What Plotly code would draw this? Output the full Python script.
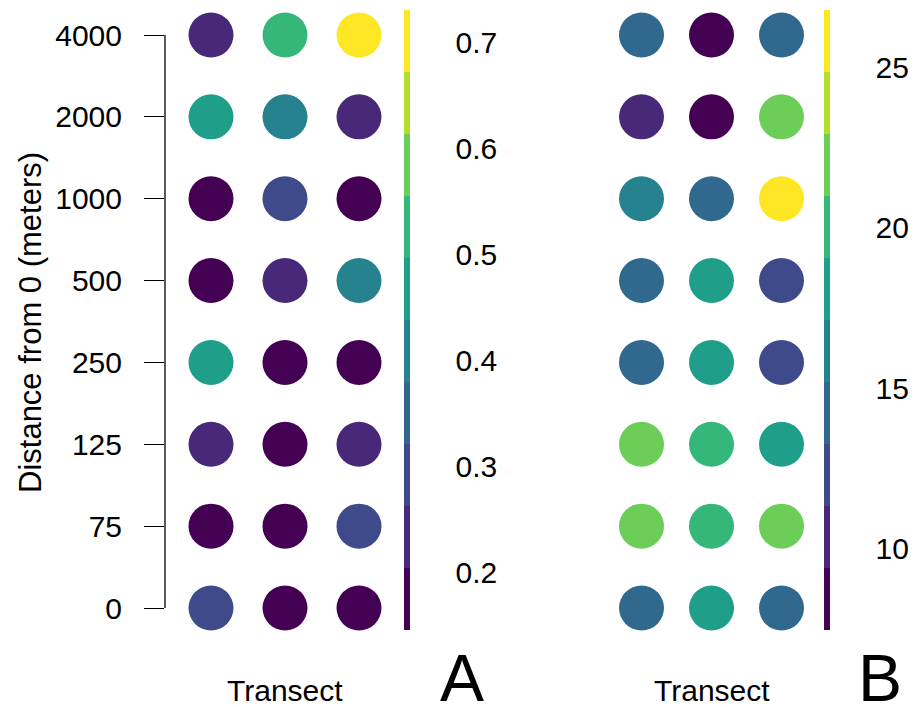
import plotly.graph_objects as go

# Sampling design: distance along each transect (rows) and transect number (columns)
distances = ["0", "75", "125", "250", "500", "1000", "2000", "4000"]
transects = [1, 2, 3]

# Panel A values, one row per distance (bottom to top), one column per transect
values_a = [
    [0.29, 0.17, 0.16],
    [0.18, 0.15, 0.30],
    [0.24, 0.19, 0.23],
    [0.47, 0.17, 0.18],
    [0.16, 0.22, 0.41],
    [0.146, 0.28, 0.17],
    [0.46, 0.42, 0.25],
    [0.22, 0.53, 0.731],
]

# Panel B values, same layout
values_b = [
    [14.2, 18.1, 14.6],
    [22.3, 20.2, 21.8],
    [22.1, 19.9, 18.4],
    [14.0, 18.6, 12.5],
    [14.4, 17.9, 12.1],
    [16.0, 13.9, 26.81],
    [10.2, 7.9, 22.0],
    [14.8, 7.44, 13.7],
]

range_a = [0.146, 0.731]
range_b = [7.44, 26.81]
ticks_a = [0.2, 0.3, 0.4, 0.5, 0.6, 0.7]
ticks_b = [10, 15, 20, 25]
panel_labels = ["A", "B"]

viridis10 = ["#440154", "#482878", "#3E4A89", "#31688E", "#26828E",
             "#1F9E89", "#35B779", "#6DCD59", "#B4DE2C", "#FDE725"]

W, H = 914, 707
FONT = "Liberation Sans, Arial, sans-serif"
FS = 30


def stepped(colors):
    n = len(colors)
    scale = []
    for i, c in enumerate(colors):
        scale.append([i / n, c])
        scale.append([(i + 1) / n, c])
    return scale


def flatten(values):
    xs, ys, cs = [], [], []
    for d, row in zip(distances, values):
        for t, v in zip(transects, row):
            xs.append(t)
            ys.append(d)
            cs.append(v)
    return xs, ys, cs


def px(v, total):
    return v / total


fig = go.Figure()

panels = [
    dict(values=values_a, crange=range_a, ticks=ticks_a, xaxis="x", yaxis="y",
         bar_left=404, label_x=462),
    dict(values=values_b, crange=range_b, ticks=ticks_b, xaxis="x2", yaxis="y2",
         bar_left=824, label_x=880),
]

for p in panels:
    xs, ys, cs = flatten(p["values"])
    fig.add_trace(go.Scatter(
        x=xs, y=ys, mode="markers", xaxis=p["xaxis"], yaxis=p["yaxis"],
        showlegend=False, hoverinfo="skip",
        marker=dict(
            size=45, color=cs, cmin=p["crange"][0], cmax=p["crange"][1],
            colorscale=stepped(viridis10), line=dict(width=0),
            colorbar=dict(
                x=px(p["bar_left"], W), xanchor="left", xpad=0,
                y=1 - px(320, H), yanchor="middle", ypad=0,
                len=620, lenmode="pixels", thickness=6,
                outlinewidth=0, tickvals=p["ticks"],
                ticks="outside", ticklen=40, tickcolor="rgba(0,0,0,0)",
                tickfont=dict(family=FONT, size=FS, color="black"),
            ),
        ),
    ))

# y positions: category index 0 sits 99 px above the bottom, index 7 sits 35 px below the top
step = (608 - 35) / (len(distances) - 1)
y_range = [-(H - 608) / step, (len(distances) - 1) + 35 / step]

# Panel A spans 165..405 px, column spacing 74 px; panel B spans 589.5..833.5 px, spacing 70 px
xa_dom = [165 / W, 405 / W]
xa_rng = [1 - 46 / 74, 3 + 46 / 74]
xb_dom = [589.5 / W, 833.5 / W]
xb_rng = [1 - 52 / 70, 3 + 52 / 70]

fig.update_layout(
    width=W, height=H,
    margin=dict(l=0, r=0, t=0, b=0),
    paper_bgcolor="white", plot_bgcolor="white",
    font=dict(family=FONT, size=FS, color="black"),
    xaxis=dict(domain=xa_dom, range=xa_rng, visible=False, anchor="y"),
    xaxis2=dict(domain=xb_dom, range=xb_rng, visible=False, anchor="y2"),
    yaxis=dict(
        domain=[0, 1], range=y_range, anchor="x",
        type="category", categoryorder="array", categoryarray=distances,
        showgrid=False, zeroline=False, showline=False,
        ticks="outside", ticklen=20, tickwidth=1.3, tickcolor="black",
        ticklabelstandoff=16,
        tickfont=dict(family=FONT, size=FS, color="black"),
    ),
    yaxis2=dict(
        domain=[0, 1], range=y_range, anchor="x2",
        type="category", categoryorder="array", categoryarray=distances,
        visible=False,
    ),
)

# y axis line running only between the first and last distance
fig.add_shape(type="line", xref="x domain", yref="y", x0=0, x1=0,
              y0=0, y1=len(distances) - 1, line=dict(color="black", width=1.3))

annotations = [
    dict(text="Distance from 0 (meters)", xref="paper", yref="paper",
         x=px(30, W), y=1 - px(323, H), textangle=-90, showarrow=False,
         xanchor="center", yanchor="middle", font=dict(size=31)),
]
for p, lab in zip(panels, panel_labels):
    annotations.append(dict(text="Transect", xref=p["xaxis"], yref="paper",
                            x=transects[1], y=1 - px(690, H), showarrow=False,
                            xanchor="center", yanchor="middle", font=dict(size=FS)))
    annotations.append(dict(text=lab, xref="paper", yref="paper",
                            x=px(p["label_x"], W), y=1 - px(678, H), showarrow=False,
                            xanchor="center", yanchor="middle", font=dict(size=66)))
fig.update_layout(annotations=annotations)

fig.write_html("out.html")
